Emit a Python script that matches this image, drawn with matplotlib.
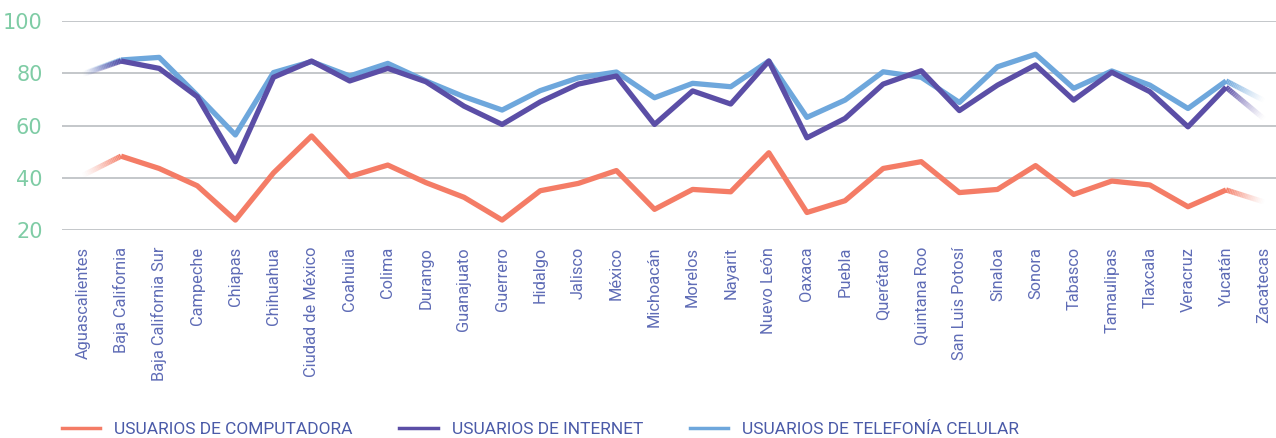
import matplotlib.pyplot as plt
from matplotlib.collections import LineCollection
from matplotlib.lines import Line2D
from matplotlib.colors import to_rgba
import numpy as np

# Entidades federativas
estados = ["Aguascalientes", "Baja California", "Baja California Sur", "Campeche",
           "Chiapas", "Chihuahua", "Ciudad de México", "Coahuila", "Colima",
           "Durango", "Guanajuato", "Guerrero", "Hidalgo", "Jalisco", "México",
           "Michoacán", "Morelos", "Nayarit", "Nuevo León", "Oaxaca", "Puebla",
           "Querétaro", "Quintana Roo", "San Luis Potosí", "Sinaloa", "Sonora",
           "Tabasco", "Tamaulipas", "Tlaxcala", "Veracruz", "Yucatán", "Zacatecas"]

# Porcentaje de usuarios
computadora = [41, 48.3, 43.6, 37, 23.9, 41.9, 56, 40.5, 44.9, 38.2, 32.6, 23.9,
               35.1, 37.9, 42.8, 28, 35.6, 34.7, 49.6, 26.8, 31.3, 43.6, 46.2,
               34.4, 35.6, 44.7, 33.7, 38.8, 37.3, 29, 35.4, 30.8]
internet = [79.5, 84.6, 81.8, 71, 46.2, 78.4, 84.6, 77, 81.8, 76.7, 67.4, 60.4,
            69, 75.8, 78.9, 60.4, 73.2, 68.2, 84.6, 55.3, 62.7, 75.8, 80.9,
            65.7, 75.4, 83.1, 69.7, 80.3, 72.9, 59.5, 74.6, 62.5]
telefonia = [79.8, 85, 86, 71.5, 56.4, 80.2, 84.4, 78.9, 83.7, 77, 71, 65.9,
             73.3, 78.2, 80.4, 70.6, 76.1, 74.8, 84.6, 63.1, 69.7, 80.5, 78.4,
             68.8, 82.4, 87.2, 74.2, 80.8, 75.4, 66.5, 77, 69.5]

series = ["USUARIOS DE COMPUTADORA", "USUARIOS DE INTERNET",
          "USUARIOS DE TELEFONÍA CELULAR"]
colores = ["#f47c66", "#5b4ea6", "#6ea7dc"]

LW = 3.8


def linea_con_desvanecido(ax, x, y, color, n=24):
    # tramo central opaco
    ax.plot(x[1:-1], y[1:-1], color=color, lw=LW, solid_capstyle="butt", zorder=3)
    # tramos extremos que se desvanecen
    for a, b in [(0, 1), (len(x) - 1, len(x) - 2)]:
        xs = np.linspace(x[a], x[b], n + 1)
        ys = np.linspace(y[a], y[b], n + 1)
        segs = [[(xs[i], ys[i]), (xs[i + 1], ys[i + 1])] for i in range(n)]
        cols = [to_rgba(color, ((i + 0.5) / n) ** 1.3) for i in range(n)]
        lc = LineCollection(segs, colors=cols, linewidths=LW, capstyle="butt", zorder=3)
        ax.add_collection(lc)


fig = plt.figure(figsize=(12.76, 4.38), dpi=100)
ax = fig.add_axes([62 / 1276, 1 - 230.3 / 438, 1 - 62 / 1276, (230.3 - 20.7) / 438])

x = np.arange(len(estados))
for datos, c in zip([computadora, telefonia, internet], [colores[0], colores[2], colores[1]]):
    linea_con_desvanecido(ax, x, np.array(datos, dtype=float), c)

ax.set_xlim(-0.55, 31.31)
ax.set_ylim(20, 100)
ax.set_yticks([20, 40, 60, 80, 100])
ax.yaxis.grid(True, color="#bfc3c6", lw=1.3)
ax.set_axisbelow(True)
for s in ax.spines.values():
    s.set_visible(False)

ax.set_xticks(x)
ax.set_xticklabels(estados, rotation=90, fontsize=11.8, family="Roboto",
                   color="#5f6cb6", va="top", ha="center")
ax.tick_params(axis="x", length=0, pad=12)
ax.tick_params(axis="y", length=0, pad=14, labelsize=15, labelcolor="#7fcca5")

handles = [Line2D([], [], color=c, lw=2.5) for c in colores]
leg = fig.legend(handles, series, loc="center left", bbox_to_anchor=(62 / 1276, 9 / 438),
                 ncol=3, frameon=False, borderpad=0, borderaxespad=0,
                 handlelength=2.2, handletextpad=0.8, columnspacing=2.7,
                 prop={"family": "Roboto", "size": 12.5})
for t in leg.get_texts():
    t.set_color("#4a5aa8")

fig.savefig("out.png", dpi=100)
